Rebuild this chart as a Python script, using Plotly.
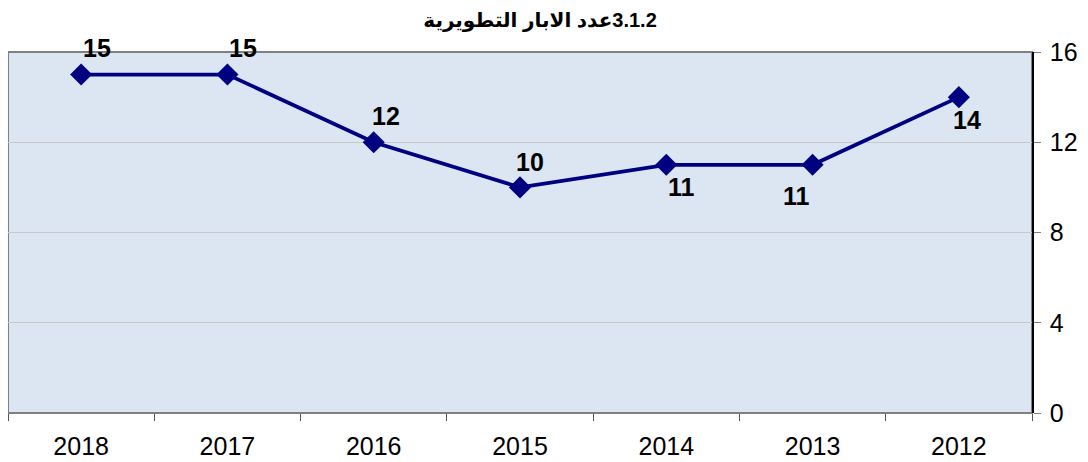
import plotly.graph_objects as go

years = [2018, 2017, 2016, 2015, 2014, 2013, 2012]
year_labels = ["2018", "2017", "2016", "2015", "2014", "2013", "2012"]
wells = [15, 15, 12, 10, 11, 11, 14]
y_ticks = [0, 4, 8, 12, 16]
title_text = "\u200f3.1.2عدد الابار التطويرية"

# label offsets (pixels) relative to each marker
label_dx = [16, 16, 12, 10, 15, -16, 8]
label_dy = [27, 27, 26, 25, -22, -31, -23]

FONT = "Arial, 'Liberation Sans', 'DejaVu Sans', sans-serif"

fig = go.Figure()
fig.add_trace(go.Scatter(
    x=years, y=wells, mode="lines+markers",
    line=dict(color="#000080", width=3.8),
    marker=dict(symbol="diamond", size=17, color="#000080"),
    cliponaxis=False, showlegend=False, hoverinfo="skip",
))

for x, y, dx, dy in zip(years, wells, label_dx, label_dy):
    fig.add_annotation(x=x, y=y, text=f"<b>{y}</b>", showarrow=False,
                       xshift=dx, yshift=dy,
                       font=dict(family=FONT, size=25, color="#000000"))

fig.add_shape(type="rect", xref="paper", yref="paper", x0=0, y0=0, x1=1, y1=1,
              line=dict(color="#808080", width=2), fillcolor="rgba(0,0,0,0)", layer="below")

boundaries = [years[0] + 0.5] + [y - 0.5 for y in years]

fig.update_layout(
    width=1088, height=462,
    margin=dict(l=0, r=64, t=44, b=57),
    paper_bgcolor="#ffffff",
    plot_bgcolor="#dce6f2",
    title=dict(text=f"<b>{title_text}</b>", x=0.489, xanchor="center", y=0.974, yanchor="middle",
               font=dict(family=FONT, size=20, color="#000000")),
    font=dict(family=FONT, size=25, color="#000000"),
    xaxis=dict(range=[years[0] + 0.5, years[-1] - 0.5], tickvals=years, ticktext=year_labels,
               showgrid=False, zeroline=False, automargin=False,
               ticks="", showline=False, ticklabelstandoff=16,
               minor=dict(tickvals=boundaries, ticks="outside", ticklen=7,
                          tickcolor="#555555", tickwidth=1, showgrid=False),
               tickfont=dict(family=FONT, size=25, color="#000000")),
    yaxis=dict(side="right", range=[0, 16], tickvals=y_ticks, automargin=False,
               showgrid=True, gridcolor="#c8c8c8", gridwidth=1, zeroline=False,
               showline=True, linecolor="#000000", linewidth=1.5,
               ticks="outside", ticklen=7, tickcolor="#808080",
               ticklabelstandoff=4,
               tickfont=dict(family=FONT, size=25, color="#000000")),
)

fig.write_html("out.html")
